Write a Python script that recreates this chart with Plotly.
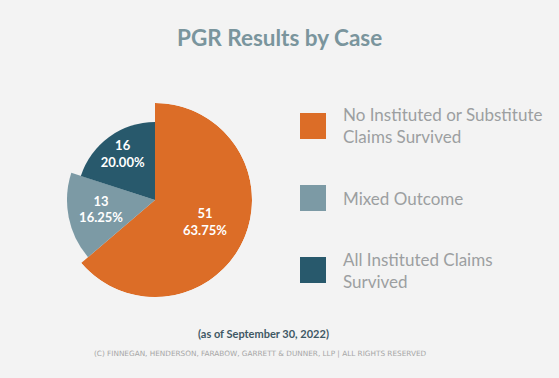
import plotly.graph_objects as go

# ---- data ----
categories = ["No Instituted or Substitute<br>Claims Survived", "Mixed Outcome", "All Instituted Claims<br>Survived"]
counts = [51, 13, 16]
title_text = "PGR Results by Case"
note_text = "(as of September 30, 2022)"
copyright_text = "(C) FINNEGAN, HENDERSON, FARABOW, GARRETT &amp; DUNNER, LLP | ALL RIGHTS RESERVED"

# ---- style ----
colors = ["#dc6d27", "#7c9aa5", "#28596c"]
slice_radius = [97, 88, 78]
BG = "#f3f3f3"
W, H = 559, 378
cx, cy, R = 155, 200, 97

total = sum(counts)
widths = [c / total * 360 for c in counts]
mids = []
acc = 0
for w in widths:
    mids.append(acc + w / 2)
    acc += w
labels = [f"{c}<br>{c / total * 100:.2f}%" for c in counts]

fig = go.Figure()
for i in range(len(counts)):
    fig.add_trace(go.Barpolar(
        r=[slice_radius[i]], theta=[mids[i]], width=[widths[i]],
        marker=dict(color=colors[i], line=dict(width=0)),
        showlegend=False, hoverinfo="skip",
    ))
fig.add_trace(go.Scatterpolar(
    r=[55] * len(counts), theta=mids, mode="text", text=labels,
    textfont=dict(family="Lato", size=13, color="white", weight="bold"),
    showlegend=False, hoverinfo="skip",
))

fig.update_layout(
    width=W, height=H, margin=dict(l=0, r=0, t=0, b=0),
    paper_bgcolor=BG, plot_bgcolor=BG,
    polar=dict(
        domain=dict(x=[(cx - R) / W, (cx + R) / W], y=[1 - (cy + R) / H, 1 - (cy - R) / H]),
        bgcolor="rgba(0,0,0,0)",
        angularaxis=dict(visible=False, direction="clockwise", rotation=90),
        radialaxis=dict(visible=False, range=[0, R]),
        bargap=0,
    ),
)

# title and notes
fig.add_annotation(text=f"<b>{title_text}</b>", x=0.5, y=1 - 37 / H, xref="paper", yref="paper",
                   xanchor="center", yanchor="middle",
                   showarrow=False, font=dict(family="Lato", size=22.5, color="#7a959d"))
fig.add_annotation(text=f"<b>{note_text}</b>", x=263 / W, y=1 - 333 / H, xref="paper", yref="paper",
                   xanchor="center", yanchor="middle",
                   showarrow=False, font=dict(family="Lato", size=11, color="#3f5864"))
fig.add_annotation(text=copyright_text, x=260 / W, y=1 - 353 / H, xref="paper", yref="paper",
                   xanchor="center", yanchor="middle",
                   showarrow=False, font=dict(family="DejaVu Sans", size=7.3, color="#a6a6a6"))

# legend
leg_y = [126, 198, 270]
for i, cat in enumerate(categories):
    y = leg_y[i]
    fig.add_shape(type="rect", xref="paper", yref="paper",
                  x0=300 / W, x1=326 / W, y0=1 - (y + 13) / H, y1=1 - (y - 13) / H,
                  fillcolor=colors[i], line=dict(width=0))
    fig.add_annotation(text=cat, x=341 / W, y=1 - y / H, xref="paper", yref="paper",
                       xanchor="left", yanchor="middle", align="left", showarrow=False,
                       font=dict(family="Lato", size=17, color="#9c9fa1"))

fig.write_html("out.html", config={"displayModeBar": False},
               post_script="document.body.style.margin='0';")
